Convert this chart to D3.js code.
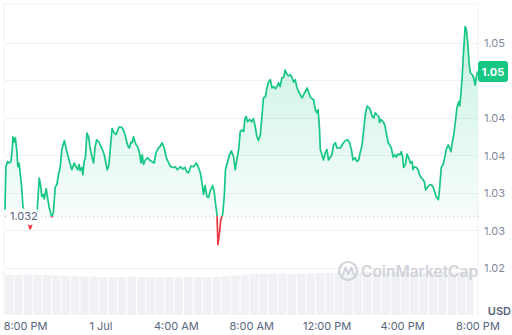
<!DOCTYPE html>
<html><head><meta charset="utf-8">
<script src="https://cdn.jsdelivr.net/npm/d3@7"></script>
<style>
html,body{margin:0;padding:0;background:#fff;}
svg{display:block;font-family:Inter,"Noto Sans",sans-serif;}
</style></head>
<body>
<svg id="chart" width="512" height="335"></svg>
<script>
// ---- data ----
const baseTime = Date.UTC(2024, 5, 30, 20, 0); // 8:00 PM, 30 Jun
const minutes = [-64,-61,-56,-50,-45,-41,-39,-35,-31,-26,-23,-19,-16,-11,-7,0,16,27,39,45,50,53,58,61,67,71,77,85,90,96,101,106,112,117,125,133,140,149,156,162,167,172,175,181,184,188,192,197,202,207,213,218,223,228,235,239,244,252,258,262,267,271,277,284,290,299,307,313,318,324,328,332,337,341,345,350,354,358,364,369,373,377,383,390,396,404,411,417,424,430,436,443,449,457,464,471,478,485,494,502,509,515,520,528,536,545,551,558,563,568,573,579,584,589,597,602,606,611,614,619,623,629,634,638,645,651,657,664,669,674,680,685,691,696,700,704,708,715,721,727,733,738,743,749,754,759,765,770,775,781,786,791,797,802,807,812,818,823,828,834,839,844,850,855,860,866,871,876,882,887,892,898,903,908,913,919,924,929,933,937,940,945,950,956,961,966,972,977,982,988,993,998,1004,1009,1014,1020,1027,1033,1039,1044,1050,1057,1062,1067,1073,1078,1083,1089,1094,1099,1105,1110,1115,1121,1126,1129,1133,1140,1145,1150,1156,1161,1166,1172,1177,1182,1187,1193,1198,1202,1205,1211,1216,1221,1227,1232,1235,1239,1246,1251,1256,1262,1267,1272,1275,1282,1288,1294,1299,1304,1309,1316,1320,1325,1331,1336,1341,1347,1352,1356,1360,1365,1370,1375,1381,1384,1388,1392,1396,1401,1405,1409,1414,1418,1423,1428,1433,1437,1441];
const prices = [1.0329,1.0386,1.0393,1.0391,1.0393,1.0409,1.0426,1.0419,1.0425,1.0405,1.0386,1.0391,1.0379,1.0359,1.0333,1.0323,1.0303,1.0315,1.0331,1.0371,
1.0359,1.0346,1.0349,1.0343,1.0357,1.0346,1.0331,1.0319,1.0325,1.0359,1.0362,1.0375,1.0386,1.0409,1.0421,1.0406,1.0395,1.0382,1.0391,1.0386,
1.0382,1.0389,1.0381,1.0385,1.0375,1.0393,1.0398,1.0431,1.0426,1.0411,1.0399,1.0391,1.0413,1.0422,1.0419,1.0415,1.0411,1.0402,1.0389,1.0382,
1.0389,1.0409,1.0437,1.0431,1.0429,1.0439,1.0439,1.0435,1.0429,1.0419,1.0413,1.0411,1.0419,1.0418,1.0426,1.0419,1.0415,1.0413,1.0405,1.0391,
1.0402,1.0389,1.0395,1.0398,1.0395,1.0393,1.0391,1.0405,1.0411,1.0413,1.0418,1.0411,1.0399,1.0391,1.0386,1.0385,1.0386,1.0382,1.0386,1.0383,
1.0385,1.0379,1.0378,1.0387,1.0386,1.0391,1.0386,1.0378,1.0365,1.0349,1.0361,1.0346,1.0345,1.0353,1.0361,1.0353,1.0338,1.0322,1.0282,1.0298,
1.0315,1.0322,1.0346,1.0382,1.0393,1.0402,1.0407,1.0399,1.0382,1.0395,1.0409,1.0433,1.0435,1.0433,1.0451,1.0453,1.0446,1.0449,1.0446,1.0450,
1.0439,1.0426,1.0421,1.0429,1.0453,1.0478,1.0479,1.0491,1.0499,1.0502,1.0491,1.0493,1.0490,1.0493,1.0498,1.0493,1.0505,1.0505,1.0515,1.0509,
1.0507,1.0509,1.0505,1.0499,1.0502,1.0491,1.0486,1.0482,1.0478,1.0482,1.0486,1.0491,1.0485,1.0479,1.0477,1.0475,1.0462,1.0458,1.0462,1.0439,
1.0409,1.0402,1.0395,1.0405,1.0409,1.0395,1.0399,1.0402,1.0415,1.0418,1.0411,1.0411,1.0411,1.0415,1.0418,1.0421,1.0422,1.0418,1.0409,1.0395,
1.0398,1.0393,1.0395,1.0405,1.0415,1.0435,1.0455,1.0467,1.0465,1.0462,1.0453,1.0451,1.0458,1.0455,1.0453,1.0445,1.0449,1.0446,1.0442,1.0431,
1.0418,1.0415,1.0411,1.0399,1.0402,1.0399,1.0403,1.0402,1.0406,1.0399,1.0385,1.0389,1.0403,1.0398,1.0391,1.0393,1.0382,1.0386,1.0385,1.0382,
1.0375,1.0371,1.0369,1.0365,1.0355,1.0359,1.0362,1.0362,1.0359,1.0353,1.0346,1.0342,1.0358,1.0385,1.0389,1.0398,1.0409,1.0415,1.0411,1.0406,
1.0418,1.0429,1.0446,1.0465,1.0473,1.0467,1.0485,1.0509,1.0539,1.0573,1.0569,1.0553,1.0522,1.0511,1.0509,1.0505,1.0495,1.0506,1.0513];
const openPrice = 1.032;
const openLabel = "1.032";
const lastLabel = "1.05";
// volume, one bar per 30 minutes
const volumes = [40,40,40.5,40,40,39.5,39.5,39,38.5,38.5,38,38,38,38.5,38,38,38,38,37.5,38,38,38,38,38.5,39.5,40.5,41,41,41,41.5,41,41,41.5,42,42,42.5,42.5,42.5,43,42.5,42.5,43,43,42.5,42.5,43,43,42.5,42.5,42.5,42];
const yTickValues = [1.0251,1.0301,1.0351,1.0401,1.0451,1.0501,1.0551];
// the 1.0501 label sits under the current-price badge in the reference, so it is not shown
const yTickLabels = ["1.02","1.03","1.03","1.04","1.04","","1.05"];
const xTickHours = [0,4,8,12,16,20,24];
const xTickLabels = ["8:00 PM","1 Jul","4:00 AM","8:00 AM","12:00 PM","4:00 PM","8:00 PM"];

// ---- build ----
const GREEN = "#16c784", RED = "#ea3943";
const n = Math.min(minutes.length, prices.length);
const data = d3.range(n).map(i => ({t: new Date(baseTime + minutes[i]*60000), v: prices[i]}));
const svg = d3.select("#chart");
const L = 5, R = 478, T = 4, B = 315;

const x = d3.scaleUtc()
  .domain([new Date(baseTime - 64*60000), new Date(baseTime + 1442*60000)])
  .range([L, R]);
const y = d3.scaleLinear().domain([1.0251, 1.0551]).range([268, 43]);
const yBase = y(openPrice);

const defs = svg.append("defs");
const gG = defs.append("linearGradient").attr("id","gGreen").attr("gradientUnits","userSpaceOnUse")
  .attr("x1",0).attr("x2",0).attr("y1",25).attr("y2",yBase);
gG.append("stop").attr("offset",0).attr("stop-color",GREEN).attr("stop-opacity",0.24);
gG.append("stop").attr("offset",1).attr("stop-color",GREEN).attr("stop-opacity",0.03);
const gR = defs.append("linearGradient").attr("id","gRed").attr("gradientUnits","userSpaceOnUse")
  .attr("x1",0).attr("x2",0).attr("y1",yBase).attr("y2",250);
gR.append("stop").attr("offset",0).attr("stop-color",RED).attr("stop-opacity",0.03);
gR.append("stop").attr("offset",1).attr("stop-color",RED).attr("stop-opacity",0.15);
defs.append("clipPath").attr("id","cAbove").append("rect").attr("x",0).attr("y",0).attr("width",512).attr("height",yBase);
defs.append("clipPath").attr("id","cBelow").append("rect").attr("x",0).attr("y",yBase).attr("width",512).attr("height",335-yBase);

// frame
svg.append("line").attr("x1",L-1).attr("x2",R).attr("y1",T).attr("y2",T).attr("stroke","#eff2f5");
svg.append("line").attr("x1",L-1).attr("x2",L-1).attr("y1",T).attr("y2",B).attr("stroke","#eff2f5");
svg.append("line").attr("x1",R).attr("x2",R).attr("y1",T).attr("y2",B).attr("stroke","#eff2f5");

// gridlines
svg.append("g").selectAll("line").data(yTickValues).join("line")
  .attr("x1",L).attr("x2",R).attr("y1",d=>Math.round(y(d))+0.5).attr("y2",d=>Math.round(y(d))+0.5)
  .attr("stroke","#eff1f4");

// volume bars
const vy = d3.scaleLinear().domain([0,50]).range([B, B-50]);
const barW = x(new Date(baseTime + 30*60000)) - x(new Date(baseTime));
svg.append("g").selectAll("rect").data(volumes).join("rect")
  .attr("x",(d,i)=>x(new Date(baseTime + (-64 + 30*i)*60000)))
  .attr("width",(d,i)=>Math.max(0, Math.min(barW-1, 473 - x(new Date(baseTime + (-64 + 30*i)*60000)))))
  .attr("y",d=>vy(d)).attr("height",d=>B - vy(d))
  .attr("fill","#f0f1f4");

// watermark
const wm = svg.append("g").attr("opacity",0.9);
wm.append("circle").attr("cx",348).attr("cy",271).attr("r",9).attr("fill","none").attr("stroke","#cdd0d6").attr("stroke-width",2.2);
wm.append("path").attr("d","M342.5,276 L345.5,267.5 L348.5,274 L351.5,267.5 L354,275").attr("fill","none")
  .attr("stroke","#cdd0d6").attr("stroke-width",2).attr("stroke-linejoin","round").attr("stroke-linecap","round");
wm.append("text").attr("x",361).attr("y",276.5).attr("font-size",15.5).attr("font-weight",600)
  .attr("fill","#cdd0d6").text("CoinMarketCap");

// area + lines
const area = d3.area().x(d=>x(d.t)).y0(yBase).y1(d=>y(d.v));
const line = d3.line().x(d=>x(d.t)).y(d=>y(d.v));
svg.append("path").datum(data).attr("d",area).attr("fill","url(#gGreen)").attr("clip-path","url(#cAbove)");
svg.append("path").datum(data).attr("d",area).attr("fill","url(#gRed)").attr("clip-path","url(#cBelow)");

// reference dotted line
svg.append("line").attr("x1",L).attr("x2",R).attr("y1",yBase).attr("y2",yBase)
  .attr("stroke","#a7b1c2").attr("stroke-width",1).attr("stroke-dasharray","1,3");

svg.append("path").datum(data).attr("d",line).attr("fill","none").attr("stroke",GREEN)
  .attr("stroke-width",1.7).attr("stroke-linejoin","round").attr("clip-path","url(#cAbove)");
svg.append("path").datum(data).attr("d",line).attr("fill","none").attr("stroke",RED)
  .attr("stroke-width",1.7).attr("stroke-linejoin","round").attr("clip-path","url(#cBelow)");

// open price label
svg.append("rect").attr("x",7).attr("y",yBase-7.5).attr("width",30).attr("height",16).attr("fill","#fff");
svg.append("text").attr("x",10).attr("y",yBase+4).attr("font-size",11).attr("fill","#58667e").text(openLabel);

// y axis labels
svg.append("g").selectAll("text").data(yTickValues.filter((d,i)=>yTickLabels[i] !== "")).join("text")
  .attr("x",484).attr("y",d=>y(d)+4).attr("font-size",11).attr("fill","#808a9d")
  .text(d=>yTickLabels[yTickValues.indexOf(d)]);

// current price badge
const lastY = y(data[n-1].v);
svg.append("rect").attr("x",478).attr("y",lastY-10.5).attr("width",30).attr("height",21).attr("rx",3).attr("fill",GREEN);
svg.append("text").attr("x",493).attr("y",lastY+4).attr("text-anchor","middle").attr("font-size",11)
  .attr("font-weight",700).attr("fill","#fff").text(lastLabel);

// USD
svg.append("text").attr("x",511).attr("y",315).attr("text-anchor","end").attr("font-size",11)
  .attr("font-weight",600).attr("fill","#58667e").text("USD");

// x axis
const xAxis = d3.axisBottom(x)
  .tickValues(xTickHours.map(h => new Date(baseTime + h*3600000)))
  .tickFormat((d,i)=>xTickLabels[i]).tickSize(0).tickPadding(0);
const gx = svg.append("g").attr("transform","translate(0,322)").call(xAxis);
gx.select(".domain").remove();
gx.selectAll("text").attr("font-size",11).attr("fill","#58667e").attr("font-family","Inter,'Noto Sans',sans-serif");
</script>
</body></html>
